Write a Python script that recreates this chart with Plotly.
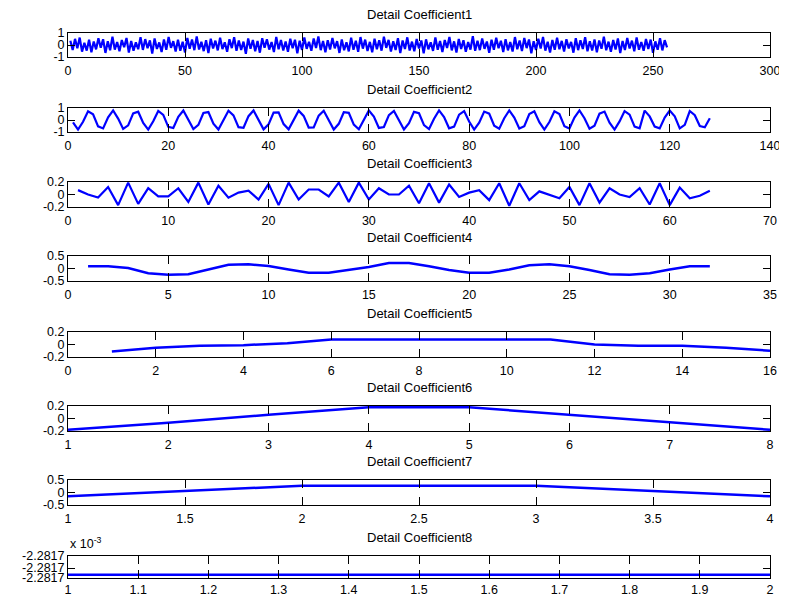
import plotly.graph_objects as go

# ---------------- data ----------------
titles = ["Detail Coefficient1", "Detail Coefficient2", "Detail Coefficient3",
          "Detail Coefficient4", "Detail Coefficient5", "Detail Coefficient6",
          "Detail Coefficient7", "Detail Coefficient8"]

coef1 = [0.35,-0.42,0.51,-0.28,0.62,-0.55,0.18,-0.47,0.44,-0.61,0.29,-0.36,0.57,-0.22,0.48,-0.66,
         0.31,-0.44,0.69,-0.38,0.25,-0.52,0.41,-0.19,0.58,-0.63,0.34,-0.47,0.22,-0.35,0.64,-0.41,
         0.49,-0.27,0.38,-0.71,0.55,-0.33,0.21,-0.58,0.46,-0.39,0.67,-0.24,0.32,-0.54,0.43,-0.48,
         0.27,-0.62,0.59,-0.31,0.45,-0.43,0.72,-0.37,0.26,-0.51,0.39,-0.68,0.53,-0.29,0.36,-0.45,
         0.61,-0.34,0.23,-0.57,0.48,-0.26,0.65,-0.49,0.37,-0.42,0.28,-0.73,0.54,-0.31,0.42,-0.53,
         0.33,-0.64,0.57,-0.23,0.47,-0.38,0.24,-0.59,0.68,-0.35,0.41,-0.46,0.30,-0.56,0.52,-0.27,
         0.44,-0.69,0.36,-0.41,0.63,-0.32,0.27,-0.48,0.55,-0.25,0.71,-0.43,0.34,-0.60,0.40,-0.37,
         0.58,-0.28,0.32,-0.66,0.46,-0.44,0.22,-0.53,0.60,-0.39,0.35,-0.57,0.66,-0.30,0.45,-0.50,
         0.26,-0.61,0.53,-0.35,0.39,-0.47,0.70,-0.24,0.43,-0.55,0.31,-0.42,0.56,-0.67,0.37,-0.33,
         0.64,-0.46,0.28,-0.52,0.50,-0.29,0.38,-0.70,0.47,-0.36,0.23,-0.49,0.62,-0.40,0.33,-0.58,
         0.42,-0.25,0.67,-0.45,0.30,-0.63,0.51,-0.34,0.40,-0.56,0.25,-0.38,0.73,-0.48,0.36,-0.43,
         0.55,-0.32,0.29,-0.65,0.44,-0.40,0.61,-0.27,0.35,-0.59,0.49,-0.45,0.24,-0.54,0.66,-0.36,
         0.38,-0.50,0.58,-0.26,0.46,-0.69,0.32,-0.41,0.53,-0.30,0.68,-0.47,0.27,-0.62,0.42,-0.39,
         0.60,-0.35,0.34,-0.55,0.48,-0.28,0.26,-0.64,0.57,-0.43,0.39,-0.33,0.65,-0.52,0.31,-0.46,
         0.47,-0.60,0.37,-0.31,0.70,-0.44,0.28,-0.57,0.41,-0.37,0.54,-0.68,0.33,-0.42,0.59,-0.29,
         0.36,-0.53,0.63,-0.40,0.25,-0.48,0.50,-0.34,0.45,-0.65,0.30,-0.39,0.56,-0.45,0.40,-0.20]

coef2 = [-0.20,-0.80,-0.15,0.73,0.47,-0.53,-0.70,0.22,0.80,0.12,
         -0.74,-0.45,0.55,0.69,-0.25,-0.80,-0.10,0.75,0.43,-0.57,
         -0.67,0.27,0.79,0.07,-0.76,-0.41,0.58,0.66,-0.30,-0.79,
         -0.05,0.77,0.38,-0.60,-0.65,0.32,0.79,0.02,-0.78,-0.36,
         0.62,0.63,-0.34,-0.78,0.00,0.78,0.34,-0.63,-0.62,0.36,
         0.77,-0.03,-0.79,-0.32,0.65,0.60,-0.39,-0.77,0.05,0.79,
         0.29,-0.66,-0.58,0.41,0.76,-0.08,-0.79,-0.27,0.68,0.56,
         -0.43,-0.75,0.10,0.80,0.25,-0.69,-0.55,0.45,0.74,-0.13,
         -0.80,-0.22,0.70,0.53,-0.47,-0.73,0.15,0.80,0.20,-0.71,
         -0.51,0.49,0.72,-0.18,-0.80,-0.17,0.72,0.49,-0.51,-0.71,
         0.20,0.80,0.15,-0.73,-0.47,0.53,0.70,-0.22,-0.80,-0.12,
         0.74,0.45,-0.55,-0.69,0.78,0.30,-0.55,-0.70,0.20,0.78,
         0.30,-0.70,-0.40,0.75,0.40,-0.50,-0.60,0.15]

coef3 = [0.07,0.00,-0.05,0.12,-0.17,0.19,-0.15,0.10,-0.03,-0.03,
         0.10,-0.12,0.19,-0.16,0.14,-0.05,0.03,0.06,-0.08,0.17,
         -0.17,0.19,-0.08,0.08,0.08,-0.03,0.19,-0.12,0.19,-0.08,
         0.10,0.00,0.00,0.14,-0.14,0.18,-0.13,0.16,-0.04,0.03,
         0.07,-0.09,0.18,-0.18,0.18,-0.09,0.05,0.00,-0.06,0.12,
         -0.17,0.18,-0.13,0.10,0.00,-0.04,0.10,-0.16,0.18,-0.17,
         0.11,-0.06,-0.02,0.06]

coef4 = [0.09,0.09,0.02,-0.19,-0.25,-0.23,-0.04,0.15,0.17,0.10,
         -0.04,-0.17,-0.17,-0.06,0.06,0.22,0.22,0.09,-0.06,-0.17,
         -0.17,-0.04,0.13,0.17,0.09,-0.06,-0.23,-0.25,-0.19,-0.04,
         0.09,0.09]

coef5 = [-0.11,-0.05,-0.02,-0.01,0.02,0.08,0.08,0.08,0.08,0.08,
         0.08,0.00,-0.02,-0.02,-0.05,-0.10]

coef6 = [-0.18,-0.07,0.06,0.18,0.18,0.06,-0.07,-0.18]

coef7 = [-0.15,0.27,0.27,-0.15]

coef8 = [-0.0022817,-0.0022817]

series = [coef1, coef2, coef3, coef4, coef5, coef6, coef7, coef8]

x_ranges = [[0, 300], [0, 140], [0, 70], [0, 35], [0, 16], [1, 8], [1, 4], [1, 2]]
x_dticks = [50, 20, 10, 5, 2, 1, 0.5, 0.1]
y_ranges = [[-1, 1], [-1, 1], [-0.2, 0.2], [-0.5, 0.5], [-0.2, 0.2], [-0.2, 0.2], [-0.5, 0.5]]
y_ticks = [[-1, 0, 1], [-1, 0, 1], [-0.2, 0, 0.2], [-0.5, 0, 0.5],
           [-0.2, 0, 0.2], [-0.2, 0, 0.2], [-0.5, 0, 0.5]]
y_ticktext = [["-1", "0", "1"], ["-1", "0", "1"], ["-0.2", "0", "0.2"], ["-0.5", "0", "0.5"],
              ["-0.2", "0", "0.2"], ["-0.2", "0", "0.2"], ["-0.5", "0", "0.5"]]
coef8_label = "-2.2817"
exponent_label = "x 10<sup>-3</sup>"

# ---------------- layout geometry (page pixels) ----------------
# the page body has an 8px margin, so the figure is offset by 8px
OFF = 8
W, H = 787 - OFF, 605 - 2 * OFF
left_px, right_px = 68 - OFF, 770 - OFF
tops = [t - OFF for t in [33, 108, 182, 256, 332, 406, 480, 556]]
bottoms = [b - OFF for b in [57, 132, 207, 281, 357, 431, 505, 578]]

FONT = "Liberation Sans, Arial, sans-serif"
fig = go.Figure()
layout = {}
annotations = []

for i, ys in enumerate(series):
    n = i + 1
    xs = list(range(1, len(ys) + 1))
    if n == 8:
        yplot = [v * 1000 for v in ys]
    else:
        yplot = ys
    xa = "x" if n == 1 else f"x{n}"
    ya = "y" if n == 1 else f"y{n}"
    fig.add_trace(go.Scatter(x=xs, y=yplot, mode="lines",
                             line=dict(color="#0000FF", width=2.5 if n > 3 else 2.2),
                             xaxis=xa, yaxis=ya, showlegend=False, hoverinfo="skip"))
    xkey = "xaxis" if n == 1 else f"xaxis{n}"
    ykey = "yaxis" if n == 1 else f"yaxis{n}"
    ydom = [1 - bottoms[i] / H, 1 - tops[i] / H]
    layout[xkey] = dict(domain=[left_px / W, right_px / W], range=x_ranges[i],
                        anchor=ya, tick0=x_ranges[i][0], dtick=x_dticks[i],
                        ticks="inside", ticklen=8, tickwidth=1, tickcolor="black",
                        showline=True, linecolor="black", linewidth=1, mirror="ticks",
                        showgrid=False, zeroline=False, automargin=False,
                        ticklabelstandoff=2 if n < 8 else 0, ticklabeloverflow="allow",
                        tickfont=dict(family=FONT, size=12.5, color="black"))
    if n < 8:
        ycfg = dict(range=y_ranges[i], tickvals=y_ticks[i], ticktext=y_ticktext[i])
    else:
        v = coef8[0] * 1000
        ycfg = dict(range=[v - 0.0000015, v + 0.0000085],
                    tickvals=[v - 0.0000015, v + 0.000003, v + 0.0000085],
                    ticktext=[coef8_label] * 3)
    layout[ykey] = dict(domain=ydom, anchor=xa, ticks="inside", ticklen=7, tickwidth=1,
                        tickcolor="black", showline=True, linecolor="black", linewidth=1,
                        mirror="ticks", showgrid=False, zeroline=False, automargin=False,
                        tickfont=dict(family=FONT, size=12.5, color="black"), **ycfg)
    annotations.append(dict(text=titles[i], xref="paper", yref="paper",
                            x=(left_px + right_px) / 2 / W, y=1 - (tops[i] - 18.5) / H,
                            xanchor="center", yanchor="middle", showarrow=False,
                            font=dict(family=FONT, size=13, color="black")))

annotations.append(dict(text=exponent_label, xref="paper", yref="paper",
                        x=left_px / W, y=1 - (tops[7] - 3) / H, xanchor="left", yanchor="bottom",
                        showarrow=False, font=dict(family=FONT, size=12.5, color="black")))

fig.update_layout(width=W, height=H, margin=dict(l=0, r=0, t=0, b=0),
                  paper_bgcolor="white", plot_bgcolor="white",
                  annotations=annotations, **layout)
fig.write_html("out.html")
